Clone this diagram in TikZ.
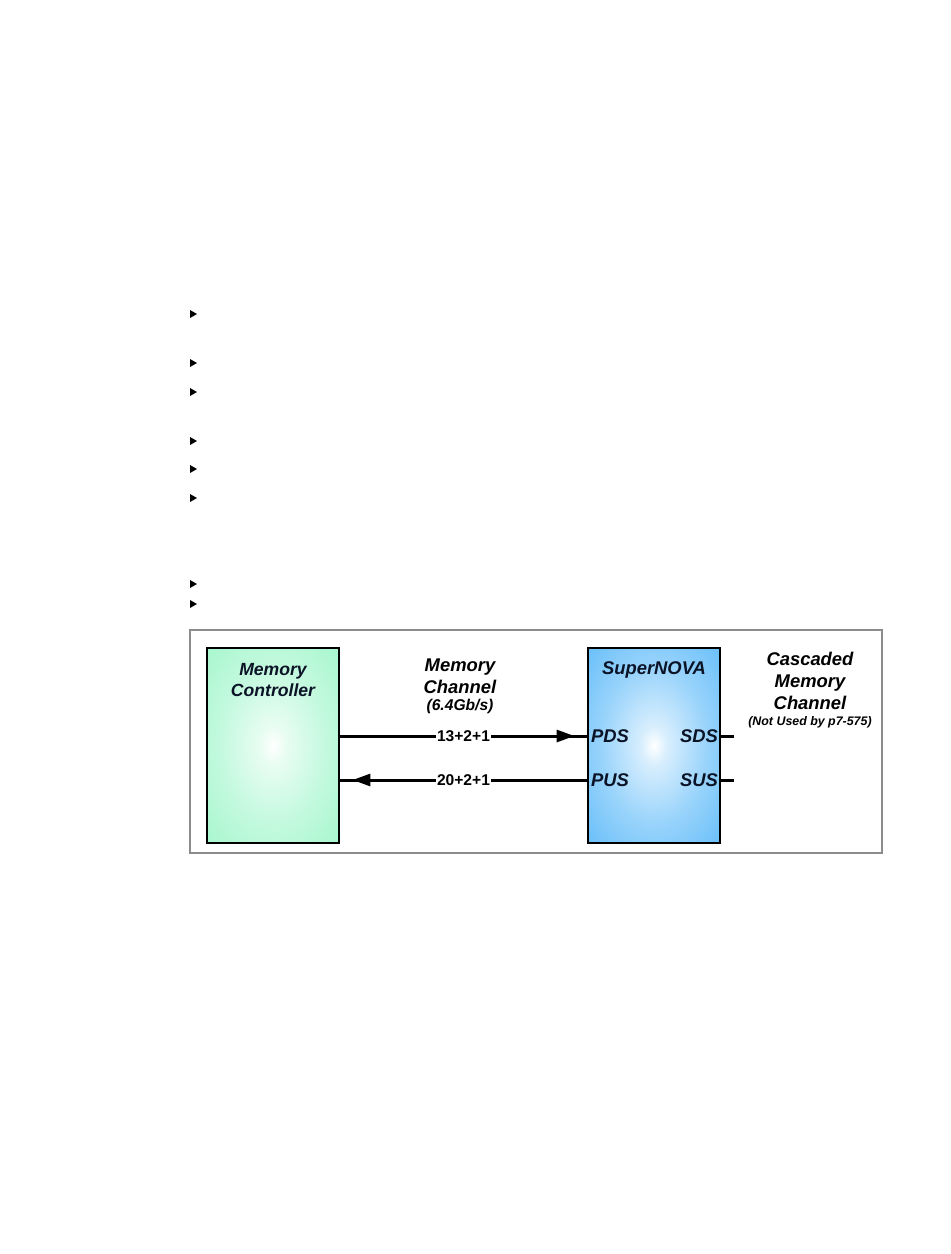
\documentclass[tikz,border=0pt]{standalone}
\usepackage{fontspec}
\setmainfont{Liberation Sans}
\usetikzlibrary{arrows.meta, decorations.markings}
\definecolor{mintgreen}{HTML}{A3F6CC}
\definecolor{skyblue}{HTML}{62BCF9}
\definecolor{navytext}{HTML}{0B1326}
\definecolor{framegray}{HTML}{8C8C8C}
\pgfdeclareradialshading{mintglow}{\pgfpoint{0bp}{0bp}}{color(0bp)=(white);
	color(5bp)=(white!75!mintgreen); color(20bp)=(white!35!mintgreen);
	color(38bp)=(mintgreen); color(72bp)=(mintgreen)}
\pgfdeclareradialshading{skyglow}{\pgfpoint{0bp}{0bp}}{color(0bp)=(white);
	color(5bp)=(white!75!skyblue); color(20bp)=(white!35!skyblue);
	color(38bp)=(skyblue); color(72bp)=(skyblue)}
\tikzstyle{unit} = [rectangle,
	draw=black,
	line width=0.6pt,
	minimum width=66pt,
	minimum height=97.5pt
	]
\tikzstyle{ctrl} = [unit, shading=mintglow]
\tikzstyle{nova} = [unit, shading=skyglow]
\tikzstyle{title} = [font=\fontsize{9.2}{11}\selectfont\bfseries\itshape,
	align=center,
	inner sep=0pt
	]
\tikzstyle{port} = [font=\fontsize{9.2}{11}\selectfont\bfseries\itshape,
	text=navytext,
	inner sep=0pt
	]
\tikzstyle{rate} = [font=\fontsize{7.8}{9}\selectfont\bfseries\itshape,
	inner sep=0pt
	]
\tikzstyle{aside} = [font=\fontsize{6.2}{7.5}\selectfont\bfseries\itshape,
	inner sep=0pt
	]
\tikzstyle{lanes} = [font=\fontsize{7.8}{9}\selectfont\bfseries,
	fill=white,
	inner sep=0.5pt
	]
\tikzstyle{bus} = [line width=1.5pt,
	postaction={decorate},
	decoration={markings, mark=at position 0.948 with {\arrow{Triangle[length=9pt,width=6pt]}}}
	]
\tikzstyle{stub} = [line width=1.5pt]
\tikzstyle{frame} = [draw=framegray, line width=0.6pt]

\begin{document}
\begin{tikzpicture}[x=0.5pt, y=-0.5pt]
\useasboundingbox (0,0) rectangle (950,1254);

% bullet markers
\foreach \y in {314,363,392,441,469,498,584,604}
	\fill (190,\y-4) -- (197,\y) -- (190,\y+4) -- cycle;

\draw [frame] (190,630) rectangle (882,853);

\node (mc) [ctrl] at (273,745.5) {};
\node (sn) [nova] at (654,745.5) {};

\node (mcTitle) [title, font=\fontsize{8.8}{10.8}\selectfont\bfseries\itshape, text=navytext] at (273,680) {Memory\\Controller};
\node (chTitle) [title] at (460,676) {Memory\\Channel};
\node (chRate) [rate] at (460,706) {(6.4Gb/s)};
\node (snTitle) [title, text=navytext] at (654,670) {SuperNOVA};
\node (ccTitle) [title] at (810,680.5) {Cascaded\\Memory\\Channel};
\node (ccNote) [aside] at (810,722) {(Not Used by p7-575)};

\node (pds) [port] at (610,736) {PDS};
\node (pus) [port] at (610,780) {PUS};
\node (sds) [port] at (699,736) {SDS};
\node (sus) [port] at (699,780) {SUS};

\coordinate (sdsEnd) at (734,736);
\coordinate (susEnd) at (734,780);

\draw [bus] (mc.east |- pds) -- node (down) [lanes] {13+2+1} (sn.west |- pds);
\draw [bus] (sn.west |- pus) -- node (up) [lanes] {20+2+1} (mc.east |- pus);

\draw [stub] (sn.east |- sds) -- (sdsEnd);
\draw [stub] (sn.east |- sus) -- (susEnd);

\end{tikzpicture}
\end{document}
